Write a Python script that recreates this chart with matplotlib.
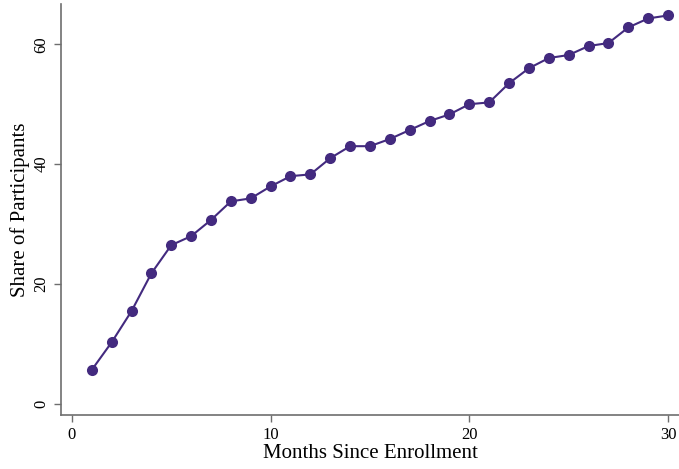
import matplotlib
matplotlib.use("Agg")
import matplotlib.pyplot as plt

months = list(range(1, 31))
share = [5.7, 10.3, 15.5, 21.8, 26.5, 28.0, 30.7, 33.8, 34.3, 36.3,
         38.0, 38.3, 41.0, 43.0, 43.0, 44.2, 45.7, 47.2, 48.3, 50.0,
         50.3, 53.5, 56.0, 57.7, 58.2, 59.7, 60.2, 62.8, 64.3, 64.8]

plt.rcParams['font.family'] = ['Liberation Serif', 'DejaVu Serif']

fig = plt.figure(figsize=(6.79, 4.69), dpi=100)
ax = fig.add_axes([0.0898, 0.115, 0.9102, 0.876])

ax.plot(months, share, color='#432A7F', linewidth=1.5, marker='o',
        markersize=8, markeredgewidth=0)

ax.set_xlim(-0.55, 30.55)
ax.set_ylim(-1.83, 66.67)
ax.set_xticks([0, 10, 20, 30])
ax.set_yticks([0, 20, 40, 60])

for side in ['top', 'right']:
    ax.spines[side].set_visible(False)
for side in ['left', 'bottom']:
    ax.spines[side].set_color('#6e6e6e')
    ax.spines[side].set_linewidth(1.2)

ax.tick_params(axis='both', colors='#6e6e6e', labelcolor='black',
               labelsize=12, length=5, width=1)
plt.setp(ax.get_yticklabels(), rotation=90, va='center')

ax.set_xlabel('Months Since Enrollment', fontsize=15, labelpad=1)
ax.set_ylabel('Share of Participants', fontsize=15, labelpad=2)

fig.savefig('out.png', dpi=100)
